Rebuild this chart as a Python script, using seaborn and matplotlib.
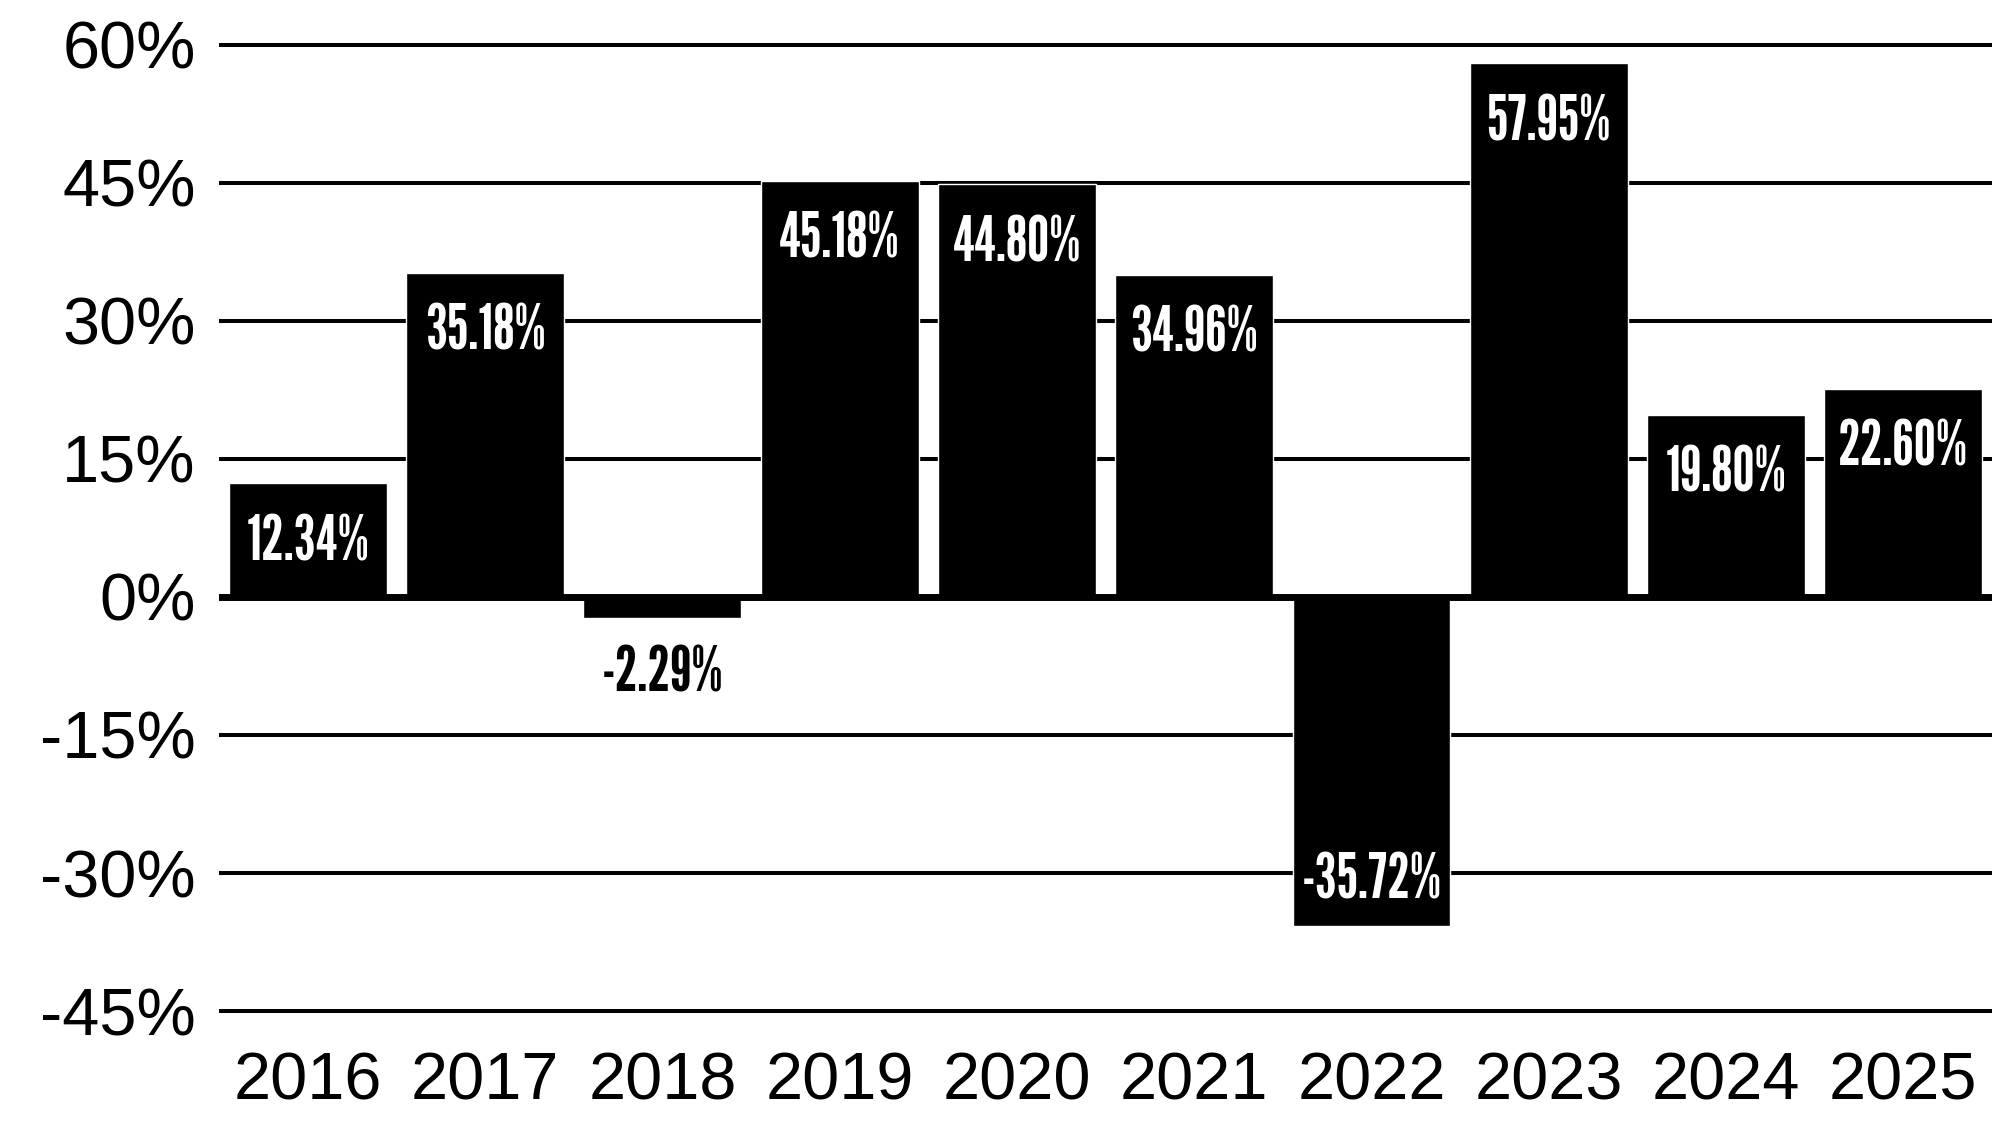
import matplotlib
matplotlib.use("Agg")
import matplotlib.pyplot as plt
import seaborn as sns
import pandas as pd

years = ["2016", "2017", "2018", "2019", "2020", "2021", "2022", "2023", "2024", "2025"]
returns = [12.34, 35.18, -2.29, 45.18, 44.80, 34.96, -35.72, 57.95, 19.80, 22.60]
yticks = [-45, -30, -15, 0, 15, 30, 45, 60]

df = pd.DataFrame({"year": years, "ret": returns})

sns.set_theme(style="white")
plt.rcParams["font.family"] = ["Liberation Sans", "DejaVu Sans"]
label_font = ["League Gothic", "Oswald", "Fira Sans Extra Condensed", "DejaVu Sans"]

fig = plt.figure(figsize=(19.92, 11.25), dpi=100)
ax = fig.add_axes([0.110, 0.0848, 0.890, 0.892])

sns.barplot(data=df, x="year", y="ret", color="black", saturation=1,
            width=0.89, ax=ax, zorder=2)

ax.set_ylim(-47, 62)
ax.set_xlim(-0.5, 9.5)
ax.set_yticks(yticks)
ax.set_yticklabels([f"{t}%" for t in yticks])
ax.yaxis.grid(True, color="black", linewidth=2.9)
ax.xaxis.grid(False)
ax.set_axisbelow(True)
ax.axhline(0, color="black", linewidth=5, zorder=3)

for s in ax.spines.values():
    s.set_visible(False)
ax.tick_params(axis="both", length=0, labelsize=48, labelcolor="black")
ax.tick_params(axis="y", pad=17)
ax.tick_params(axis="x", pad=16)
ax.set_xlabel("")
ax.set_ylabel("")

# value labels: inside the bar near its end, below the bar for tiny negatives
for i, v in enumerate(returns):
    txt = f"{v:.2f}%"
    if abs(v) < 5:
        color, off = "black", -41
    else:
        color, off = "white", (-43 if v > 0 else 32)
    ax.annotate(txt, (i, v), xytext=(0, off), textcoords="offset points",
                ha="center", va="center", color=color, fontsize=45,
                family=label_font, zorder=4)

fig.savefig("out.png", dpi=100)
